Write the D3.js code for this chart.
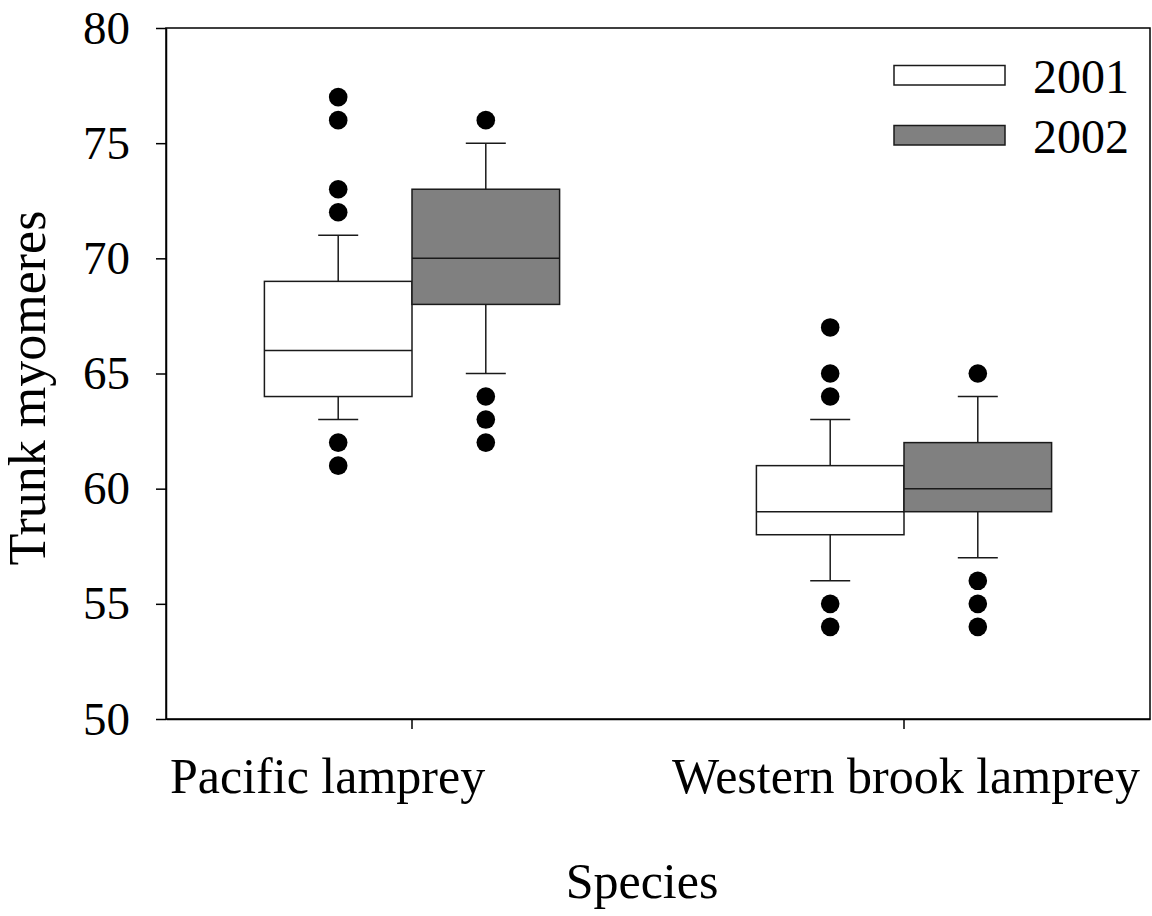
<!DOCTYPE html>
<html>
<head>
<meta charset="utf-8">
<script src="https://cdn.jsdelivr.net/npm/d3@7"></script>
<style>
  html, body { margin: 0; padding: 0; background: #fff; }
  svg { display: block; }
  text { font-family: "Liberation Serif", "Times New Roman", serif; fill: #000; }
</style>
</head>
<body>
<svg id="chart" width="1152" height="916"></svg>
<script>
// Trunk myomere counts by species and year (box = quartiles, caps = whiskers)
const species = ["Pacific lamprey", "Western brook lamprey"];
const years = ["2001", "2002"];

const whiskerLow2001 = [63, 56];
const q1_2001        = [64, 58];
const median2001     = [66, 59];
const q3_2001        = [69, 61];
const whiskerHigh2001 = [71, 63];
const outliers2001   = [[61, 62, 72, 73, 76, 77], [54, 55, 64, 65, 67]];

const whiskerLow2002 = [65, 57];
const q1_2002        = [68, 59];
const median2002     = [70, 60];
const q3_2002        = [73, 62];
const whiskerHigh2002 = [75, 64];
const outliers2002   = [[62, 63, 64, 76], [54, 55, 56, 65]];

const yTicks = [50, 55, 60, 65, 70, 75, 80];
const fills = ["#ffffff", "#808080"];

const seriesByYear = [
  { lo: whiskerLow2001, q1: q1_2001, med: median2001, q3: q3_2001, hi: whiskerHigh2001, out: outliers2001 },
  { lo: whiskerLow2002, q1: q1_2002, med: median2002, q3: q3_2002, hi: whiskerHigh2002, out: outliers2002 }
];
const boxes = [];
years.forEach((yr, j) => {
  species.forEach((sp, i) => {
    const s = seriesByYear[j];
    boxes.push({ species: sp, year: yr, lo: s.lo[i], q1: s.q1[i], med: s.med[i], q3: s.q3[i], hi: s.hi[i], out: s.out[i] });
  });
});

const svg = d3.select("#chart");
const margin = { top: 28, right: 2, bottom: 197, left: 166 };
const W = 1152, H = 916;
const plotW = W - margin.left - margin.right;
const plotH = H - margin.top - margin.bottom;
const tickFont = 47;
const legendFont = 48;
const labelFont = 50;
const titleFont = 52;

const g = svg.append("g").attr("transform", `translate(${margin.left},${margin.top})`);

const y = d3.scaleLinear().domain([50, 80]).range([plotH, 0]);
const x = d3.scaleBand().domain(species).range([0, plotW]).padding(0);
const boxW = x.bandwidth() * 0.3;
const xYear = d3.scaleBand().domain(years).range([-boxW, boxW]).padding(0);
const capW = 40;
const dotR = 9.3;

// frame around the plotting area
g.append("rect")
  .attr("x", 0).attr("y", 0).attr("width", plotW).attr("height", plotH)
  .attr("fill", "none").attr("stroke", "#000").attr("stroke-width", 1.5);

// y axis
const yAxis = g.append("g")
  .call(d3.axisLeft(y).tickValues(yTicks).tickSize(10).tickSizeOuter(0).tickPadding(26));
yAxis.select(".domain").attr("stroke-width", 1.5);
yAxis.selectAll(".tick line").attr("stroke-width", 1.5);
yAxis.selectAll(".tick text").attr("font-size", tickFont).attr("font-family", "Liberation Serif");

// x axis
const xAxis = g.append("g")
  .attr("transform", `translate(0,${plotH})`)
  .call(d3.axisBottom(x).tickSize(10).tickSizeOuter(0).tickPadding(28));
xAxis.select(".domain").attr("stroke-width", 1.5);
xAxis.selectAll(".tick line").attr("stroke-width", 1.5);
xAxis.selectAll(".tick text")
  .attr("font-size", labelFont)
  .attr("font-family", "Liberation Serif")
  // first label starts at the axis, last label ends at the frame edge
  .attr("text-anchor", (d, i) => i === 0 ? "start" : "end")
  .attr("x", (d, i) => i === 0 ? -x.bandwidth() / 2 + 4 : x.bandwidth() / 2 - 10);

// boxes
const boxG = g.selectAll("g.box").data(boxes).join("g")
  .attr("class", "box")
  .attr("transform", d => `translate(${x(d.species) + x.bandwidth() / 2 + xYear(d.year)},0)`);

const bw = xYear.bandwidth();
const stroke = "#1a1a1a";

// whiskers
boxG.append("line")
  .attr("x1", bw / 2).attr("x2", bw / 2)
  .attr("y1", d => y(d.q3)).attr("y2", d => y(d.hi))
  .attr("stroke", stroke).attr("stroke-width", 1.5);
boxG.append("line")
  .attr("x1", bw / 2).attr("x2", bw / 2)
  .attr("y1", d => y(d.q1)).attr("y2", d => y(d.lo))
  .attr("stroke", stroke).attr("stroke-width", 1.5);
boxG.append("line")
  .attr("x1", bw / 2 - capW / 2).attr("x2", bw / 2 + capW / 2)
  .attr("y1", d => y(d.hi)).attr("y2", d => y(d.hi))
  .attr("stroke", stroke).attr("stroke-width", 1.5);
boxG.append("line")
  .attr("x1", bw / 2 - capW / 2).attr("x2", bw / 2 + capW / 2)
  .attr("y1", d => y(d.lo)).attr("y2", d => y(d.lo))
  .attr("stroke", stroke).attr("stroke-width", 1.5);

// box body and median
boxG.append("rect")
  .attr("x", 0).attr("width", bw)
  .attr("y", d => y(d.q3)).attr("height", d => y(d.q1) - y(d.q3))
  .attr("fill", d => fills[years.indexOf(d.year)])
  .attr("stroke", stroke).attr("stroke-width", 1.5);
boxG.append("line")
  .attr("x1", 0).attr("x2", bw)
  .attr("y1", d => y(d.med)).attr("y2", d => y(d.med))
  .attr("stroke", stroke).attr("stroke-width", 1.5);

// outliers
boxG.selectAll("circle").data(d => d.out).join("circle")
  .attr("cx", bw / 2).attr("cy", v => y(v)).attr("r", dotR).attr("fill", "#000");

// legend
const legend = g.append("g").attr("transform", `translate(${plotW - 256},0)`);
const legItems = legend.selectAll("g").data(years).join("g")
  .attr("transform", (d, i) => `translate(0,${37.5 + i * 60})`);
legItems.append("rect")
  .attr("x", 0).attr("y", 0).attr("width", 111).attr("height", 19.5)
  .attr("fill", (d, i) => fills[i]).attr("stroke", stroke).attr("stroke-width", 1.5);
legItems.append("text")
  .attr("x", 139).attr("y", 27)
  .attr("font-size", legendFont)
  .text(d => d);

// axis titles
svg.append("text")
  .attr("x", 642).attr("y", 898)
  .attr("text-anchor", "middle")
  .attr("font-size", labelFont)
  .text("Species");
svg.append("text")
  .attr("transform", "translate(45,388) rotate(-90)")
  .attr("text-anchor", "middle")
  .attr("font-size", titleFont)
  .text("Trunk myomeres");
</script>
</body>
</html>
